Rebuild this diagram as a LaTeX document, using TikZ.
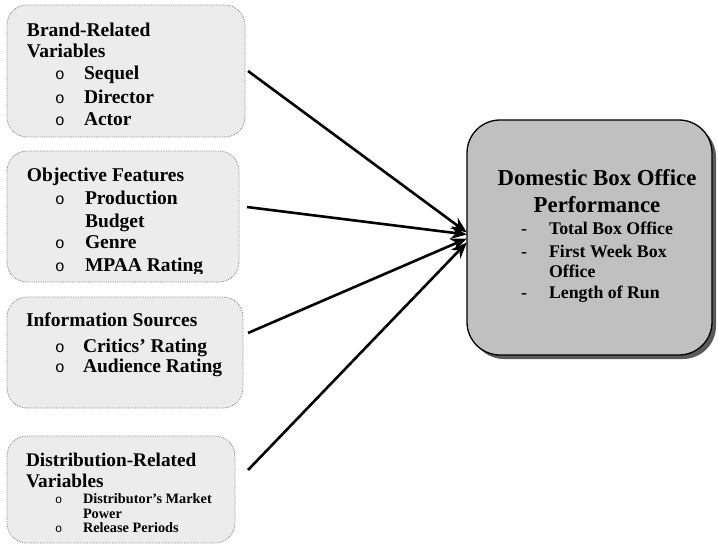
\documentclass[tikz,border=0pt]{standalone}
\usepackage{fontspec}
\setmainfont{Liberation Serif}
\newfontfamily\bulletfont{Liberation Mono}
\usetikzlibrary{arrows.meta,calc}
\definecolor{leftfill}{RGB}{236,236,236}
\definecolor{leftdraw}{RGB}{130,130,130}
\definecolor{rightfill}{RGB}{192,192,192}
\definecolor{shadowcol}{RGB}{90,90,90}
\tikzset{
  leftbox/.style={draw=leftdraw, densely dotted, line width=0.8pt, fill=leftfill, rounded corners=20pt},
  txt/.style={anchor=base west, inner sep=0pt, outer sep=0pt, font=\bfseries\fontsize{19.5}{22}\selectfont},
  txtbig/.style={anchor=base west, inner sep=0pt, outer sep=0pt, font=\bfseries\fontsize{19.3}{22}\selectfont},
  txtsmall/.style={anchor=base west, inner sep=0pt, outer sep=0pt, font=\bfseries\fontsize{14.3}{16}\selectfont},
  bul/.style={anchor=base west, inner sep=0pt, outer sep=0pt, font=\bulletfont\fontsize{16}{18}\selectfont},
  bulsmall/.style={anchor=base west, inner sep=0pt, outer sep=0pt, font=\bulletfont\fontsize{12}{14}\selectfont},
  rtxt/.style={anchor=base west, inner sep=0pt, outer sep=0pt, font=\bfseries\fontsize{17.8}{20}\selectfont},
  rtitle/.style={anchor=base, inner sep=0pt, outer sep=0pt, font=\bfseries\fontsize{22.8}{26}\selectfont},
  conn/.style={line width=2.6pt, -{Stealth[length=16pt,width=13pt]}},
}
\begin{document}
\begin{tikzpicture}[x=1pt,y=-1pt]
\useasboundingbox (0,0) rectangle (718,546);

% left boxes
\draw[leftbox] (7,5) rectangle (245,137);
\node[inner sep=0pt] (b1) at (126,71) [minimum width=238pt, minimum height=132pt] {};
\draw[leftbox] (7,151) rectangle (239,282);
\node[inner sep=0pt] (b2) at (123,216.5) [minimum width=232pt, minimum height=131pt] {};
\draw[leftbox] (7,297) rectangle (243,408);
\node[inner sep=0pt] (b3) at (125,352.5) [minimum width=236pt, minimum height=111pt] {};
\draw[leftbox] (7,436) rectangle (235,543);
\node[inner sep=0pt] (b4) at (121,489.5) [minimum width=228pt, minimum height=107pt] {};

% right box with shadow
\fill[shadowcol, rounded corners=33pt] (471,124) rectangle (716,359);
\draw[line width=1.3pt, fill=rightfill, rounded corners=33pt] (467,120) rectangle (712,355);
\node[inner sep=0pt] (perf) at (589.5,237.5) [minimum width=245pt, minimum height=235pt] {};

% box 1 text
\node[txt] (t1a) at (27,36) {Brand-Related};
\node[txt] (t1b) at (27,57) {Variables};
\node[bul] (t1c) at (55,79) {o};
\node[txt] (t1d) at (84,79) {Sequel};
\node[bul] (t1e) at (55,103) {o};
\node[txt] (t1f) at (84,103) {Director};
\node[bul] (t1g) at (55,125) {o};
\node[txt] (t1h) at (84,125) {Actor};

% box 2 text
\node[txt] (t2a) at (27,181) {Objective Features};
\node[bul] (t2b) at (55,204) {o};
\node[txt] (t2c) at (85,204) {Production};
\node[txt] (t2d) at (85,227) {Budget};
\node[bul] (t2e) at (55,248) {o};
\node[txt] (t2f) at (85,248) {Genre};
\node[bul] (t2g) at (55,271) {o};
\begin{scope}
\clip (60,250) rectangle (240,273);
\node[txt] (t2h) at (85,271) {MPAA Rating};
\end{scope}

% box 3 text
\node[txt] (t3a) at (26,326) {Information Sources};
\node[bul] (t3b) at (55,352) {o};
\node[txt] (t3c) at (83,352) {Critics’ Rating};
\node[bul] (t3d) at (55,372) {o};
\node[txt] (t3e) at (83,372) {Audience Rating};

% box 4 text
\node[txtbig] (t4a) at (26,466) {Distribution-Related};
\node[txtbig] (t4b) at (26,487) {Variables};
\node[bulsmall] (t4c) at (55,503) {o};
\node[txtsmall] (t4d) at (83,503) {Distributor’s Market};
\node[txtsmall] (t4e) at (83,518) {Power};
\node[bulsmall] (t4f) at (55,532) {o};
\node[txtsmall] (t4g) at (83,532) {Release Periods};

% right box text
\node[rtitle] (r1) at (597,185) {Domestic Box Office};
\node[rtitle] (r2) at (597,212) {Performance};
\node[rtxt] (r3) at (521,234) {-};
\node[rtxt] (r4) at (549,234) {Total Box Office};
\node[rtxt] (r5) at (521,257) {-};
\node[rtxt] (r6) at (549,257) {First Week Box};
\node[rtxt] (r7) at (549,277) {Office};
\node[rtxt] (r8) at (521,298) {-};
\node[rtxt] (r9) at (549,298) {Length of Run};

% connectors
\coordinate (s1) at (248,71);
\coordinate (s2) at (247,207);
\coordinate (s3) at (248,333);
\coordinate (s4) at (248,470);
\draw[conn] (s1) -- ($(perf.west)+(0,-5)$);
\draw[conn] (s2) -- ($(perf.west)+(0,-3)$);
\draw[conn] (s3) -- ($(perf.west)+(0,1)$);
\draw[conn] (s4) -- ($(perf.west)+(0,5)$);
\end{tikzpicture}
\end{document}
